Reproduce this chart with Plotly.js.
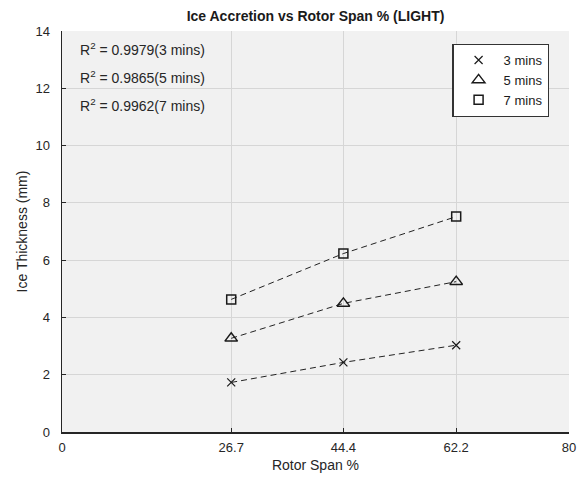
<!DOCTYPE html>
<html>
<head>
<meta charset="utf-8">
<script src="https://cdn.plot.ly/plotly-3.0.1.min.js"></script>
<style>
  html, body { margin: 0; padding: 0; background: #ffffff; }
  #chart { width: 579px; height: 485px; }
</style>
</head>
<body>
<div id="chart"></div>
<script>
// Rotor span stations (%) and measured ice thickness (mm) for each exposure time
const spanPct = [26.7, 44.4, 62.2];
const ice3min = [1.73, 2.43, 3.03];
const ice5min = [3.27, 4.49, 5.25];
const ice7min = [4.63, 6.23, 7.52];
const seriesNames = ['3 mins', '5 mins', '7 mins'];
const rSquared = ['0.9979', '0.9865', '0.9962'];
const xTicks = [0, 26.7, 44.4, 62.2, 80];
const yTicks = [0, 2, 4, 6, 8, 10, 12, 14];

const font = 'Liberation Sans, Arial, sans-serif';
const series = [ice3min, ice5min, ice7min];
const symbols = ['x-thin-open', 'triangle-up-open', 'square-open'];
const sizes = [8, 11, 9];

const traces = [];
// dashed trend lines through each series
series.forEach((ys, i) => {
  traces.push({
    x: spanPct, y: ys, mode: 'lines', type: 'scatter',
    line: { color: '#222222', width: 1, dash: '6px,4px' },
    showlegend: false, hoverinfo: 'skip'
  });
});
// markers (these carry the legend entries)
series.forEach((ys, i) => {
  traces.push({
    x: spanPct, y: ys, mode: 'markers', type: 'scatter',
    name: seriesNames[i],
    marker: { symbol: symbols[i], size: sizes[i], color: '#1a1a1a',
              line: { color: '#1a1a1a', width: i === 0 ? 1.2 : 1.5 } }
  });
});

const rLabelY = [13.38, 12.38, 11.4];
const annotations = rSquared.map((r, i) => ({
  x: 2.6, y: rLabelY[i], xref: 'x', yref: 'y',
  xanchor: 'left', yanchor: 'middle', showarrow: false,
  text: 'R<sup>2</sup> = ' + r + '(' + seriesNames[i] + ')',
  font: { family: font, size: 14, color: '#262626' }
}));

const layout = {
  width: 579, height: 485,
  margin: { l: 62, r: 10, t: 31, b: 53 },
  paper_bgcolor: '#ffffff',
  plot_bgcolor: '#f1f1f1',
  title: {
    text: '<b>Ice Accretion vs Rotor Span % (LIGHT)</b>',
    font: { family: font, size: 14, color: '#1a1a1a' },
    x: 0.545, xanchor: 'center', y: 0.967, yanchor: 'middle'
  },
  xaxis: {
    range: [0, 80], tickvals: xTicks, ticktext: xTicks.map(String),
    showgrid: true, gridcolor: '#d6d6d6', gridwidth: 1,
    zeroline: false, showline: true, linecolor: '#262626', linewidth: 1.5,
    ticks: 'inside', ticklen: 4, tickcolor: '#262626', ticklabelstandoff: 3,
    tickfont: { family: font, size: 13, color: '#262626' },
    title: { text: 'Rotor Span %', font: { family: font, size: 14, color: '#262626' }, standoff: 6 }
  },
  yaxis: {
    range: [0, 14], tickvals: yTicks,
    showgrid: true, gridcolor: '#d6d6d6', gridwidth: 1,
    zeroline: false, showline: true, linecolor: '#262626', linewidth: 1.5,
    ticks: 'inside', ticklen: 4, tickcolor: '#262626', ticklabelstandoff: 8,
    tickfont: { family: font, size: 13, color: '#262626' },
    title: { text: 'Ice Thickness (mm)', font: { family: font, size: 14, color: '#262626' }, standoff: 4 }
  },
  legend: {
    x: 0.77, y: 0.968, xanchor: 'left', yanchor: 'top',
    bgcolor: '#ffffff', bordercolor: '#333333', borderwidth: 1.2,
    font: { family: font, size: 13, color: '#1a1a1a' },
    tracegroupgap: 0, itemwidth: 40
  },
  annotations: annotations,
  showlegend: true
};

Plotly.newPlot('chart', traces, layout, { displayModeBar: false, staticPlot: true });
</script>
</body>
</html>
